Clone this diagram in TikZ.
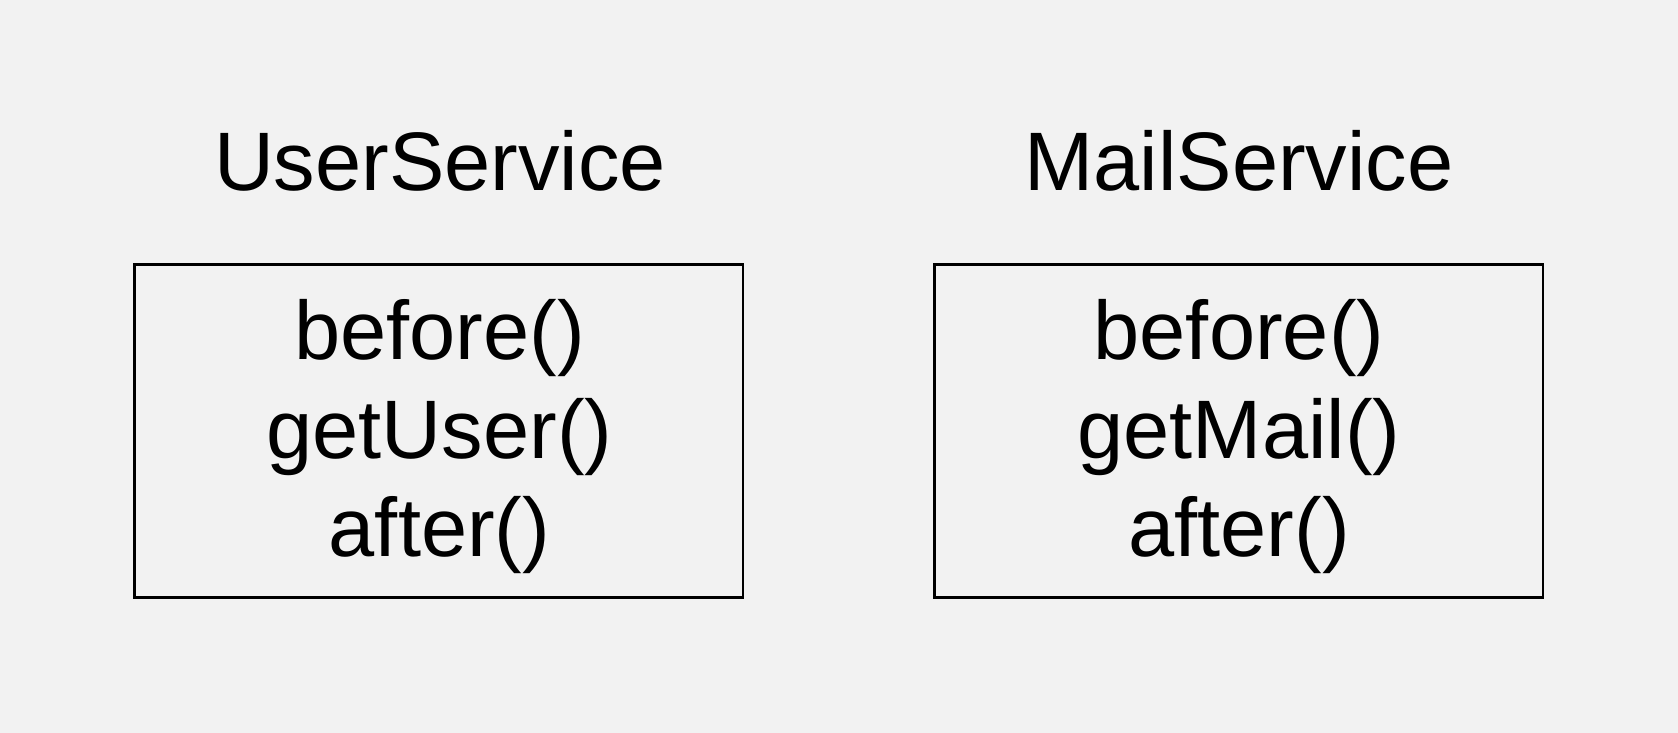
\documentclass[tikz,border=0pt]{standalone}
\usepackage{fontspec}
\setmainfont{Liberation Sans}
\definecolor{bg}{HTML}{F2F2F2}
\tikzset{
  classbox/.style={draw=black, line width=2.5pt, fill=none, inner sep=0pt, outer sep=0pt, rectangle},
  bigtext/.style={font=\fontsize{83pt}{99pt}\selectfont, inner sep=0pt, anchor=base, text=black},
}
\begin{document}
\begin{tikzpicture}[x=1pt,y=-1pt]
\fill[bg] (0,0) rectangle (1678,733);
\useasboundingbox (0,0) rectangle (1678,733);
% titles
\node[bigtext] (usertitle) at (440,190) {UserService};
\node[bigtext] (mailtitle) at (1239,190) {MailService};
% boxes
\node[classbox, minimum width=608.6pt, minimum height=333pt] (userbox) at (438.6,430.8) {};
\node[classbox, minimum width=608.6pt, minimum height=333pt] (mailbox) at (1238.6,430.8) {};
% methods
\node[bigtext] (ub) at (439.5,359.3) {before()};
\node[bigtext] (ug) at (439.5,458.3) {getUser()};
\node[bigtext] (ua) at (439.5,556.7) {after()};
\node[bigtext] (mb) at (1239,359.3) {before()};
\node[bigtext] (mg) at (1239,458.3) {getMail()};
\node[bigtext] (ma) at (1239,556.7) {after()};
\end{tikzpicture}
\end{document}
